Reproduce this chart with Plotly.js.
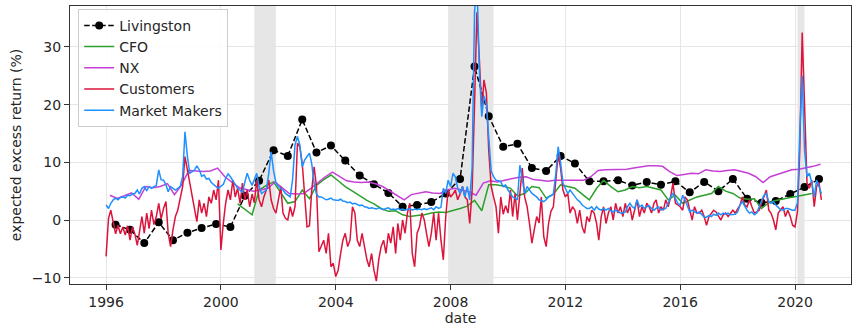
<!DOCTYPE html>
<html>
<head>
<meta charset="utf-8">
<script src="https://cdn.plot.ly/plotly-3.0.1.min.js"></script>
<style>
  html, body { margin: 0; padding: 0; background: #ffffff; }
  #chart { width: 852px; height: 327px; }
</style>
</head>
<body>
<div id="chart"></div>
<script>
// ---------------- DATA ----------------
// Livingston survey, semi-annual (May / Nov), 1996 - 2020
const livingston = [
  -0.8, -1.7, -4.0, -0.4, -3.5, -2.2, -1.4, -0.7, -1.2, 4.2,
   6.8, 12.1, 11.1, 17.4, 11.7, 12.9, 10.3, 7.7, 6.2, 4.7,
   2.3, 2.6, 3.1, 4.6, 7.1, 26.6, 18.0, 12.7, 13.2, 9.0,
   8.5, 11.1, 9.8, 6.7, 6.7, 6.9, 6.0, 6.6, 6.1, 6.7,
   4.8, 6.6, 5.0, 7.1, 3.7, 3.0, 3.3, 4.5, 5.7, 7.1
];
// CFO survey, quarterly from Aug 2000 to Aug 2020
const cfo = [
  2.8, 1.9,
  0.9, 5.2, 6.0, 6.6,
  4.8, 2.9, 3.2, 5.2,
  3.7, 6.0, 7.0, 7.8,
  6.8, 5.8, 5.0, 4.2,
  3.4, 2.8, 2.0, 1.5,
  1.6, 0.9, 0.6, 0.8,
  0.9, 1.2, 1.4, 1.3,
  1.6, 2.0, 2.4, 3.4,
  1.6, 6.1, 6.1, 5.9,
  5.5, 4.2, 4.6, 5.8,
  5.6, 3.8, 4.5, 6.1,
  5.8, 5.5, 4.5, 3.5,
  5.5, 6.9, 5.8, 4.9,
  5.2, 5.8, 5.6, 5.8,
  5.5, 5.2, 3.5, 4.3,
  2.9, 3.5, 4.0, 4.3,
  4.6, 5.8, 5.0, 4.6,
  3.8, 3.6, 3.7, 2.0,
  3.0, 3.4, 3.7, 3.9,
  4.1, 4.3, 4.6
];
// NX, quarterly (Feb / May / Aug / Nov), 1996 - 2020
const nx = [
  4.3, 3.75, 4.2, 4.7,   3.6, 5.8, 5.6, 5.8,   6.3, 4.4, 6.1, 8.6,   8.5, 8.4, 8.5, 9.0,
  7.5, 6.6, 5.6, 5.3,    5.0, 5.2, 5.5, 6.6,   5.6, 4.6, 4.5, 4.6,   5.5, 6.5, 7.5, 8.3,
  7.5, 6.8, 6.6, 6.5,    6.6, 6.3, 5.8, 5.0,   4.2, 3.5, 4.4, 4.7,   4.9, 4.7, 4.6, 5.2,
  5.5, 5.2, 4.9, 4.3,    6.4, 6.8, 6.6, 6.9,   7.2, 7.4, 7.5, 7.0,   6.9, 6.7, 6.9, 6.9,
  6.8, 6.9, 6.9, 7.5,    8.6, 8.7, 8.7, 8.7,   8.8, 9.0, 9.2, 9.4,   9.4, 9.3, 8.4, 7.7,
  7.9, 8.1, 8.0, 8.7,    8.5, 8.4, 8.6, 8.7,   8.4, 8.1, 7.5, 6.5,   7.5, 7.9, 8.2, 8.7,
  8.8, 9.0, 9.3, 9.65
];
// Customers, monthly Jan 1996 - Dec 2020
const customers = [].concat(
  [-6.3, 0.3, 1.7, -0.5, -2.4, -0.9, -2.4, -1.2, -2.6, -1.0, -3.5, -1.2],
  [-2.4, -4.4, -1.7, 0.6, -2.3, 1.2, -1.5, 1.7, -0.8, 0.6, 2.9, 0.2],
  [2.0, 3.2, -2.3, -4.6, -1.7, 0.6, 1.7, 3.5, 5.8, 11.0, 8.7, 5.8],
  [4.0, 1.2, -0.3, 3.5, 1.2, 2.9, 0.6, 4.0, 2.9, 5.2, 3.5, 6.9],
  [-5.2, -0.5, 2.9, 5.2, 3.5, 6.9, 4.0, 5.5, 2.9, 6.4, 3.5, 5.2],
  [2.3, 4.5, 3.0, 6.9, 3.5, 2.3, 4.0, 5.2, 6.9, 3.5, 2.0, 1.2],
  [3.5, 5.8, 1.2, 0.3, 0.0, 2.3, 0.6, 2.3, 13.3, 12.7, 9.8, 3.5],
  [-1.2, -1.0, 5.0, 9.2, 5.8, -5.5, -4.6, -3.5, -5.8, -2.3, -8.1, -7.5],
  [-9.8, -8.7, -6.0, -3.5, -2.3, -4.6, -3.5, 2.3, 1.2, -3.5, -4.6, -2.3],
  [-4.6, -6.9, -8.1, -5.8, -8.7, -10.6, -6.9, -4.6, -3.5, -5.8, -2.3, -4.0],
  [-1.2, -5.8, -0.6, -3.5, 0.0, -2.3, 1.2, 2.9, -5.8, -8.1, -2.3, -1.2],
  [1.2, 0.0, -2.3, -4.6, -2.3, 1.2, -3.5, 1.2, -3.5, -6.9, 0.6, 5.2],
  [4.0, 4.5, 5.2, 3.5, 4.5, 5.8, 4.0, 3.5, -0.6, 5.0, 20.0, 36.0],
  [28.0, 19.0, 24.3, 22.0, 12.0, 5.8, 4.0, 2.3, -2.3, 4.0, 1.0, 2.5],
  [1.2, 5.2, 0.6, 4.6, 0.0, 4.0, 9.0, 4.0, 2.3, -0.6, -4.0, -1.7],
  [0.6, -0.5, 4.0, -2.9, -4.6, -0.6, 1.5, 2.3, 6.9, 11.3, 9.0, 5.2],
  [4.0, 4.6, 1.2, 2.3, 1.7, -0.6, 1.7, -1.2, -2.3, 0.6, -0.3, 1.7],
  [1.2, -0.6, -3.5, 0.6, 2.3, -0.6, 1.2, 2.3, 0.0, 2.9, 1.2, 2.3],
  [0.6, 2.9, 1.2, 2.3, 0.0, 1.7, 3.5, 0.6, 2.3, 1.2, 2.9, 2.3],
  [1.2, 2.9, 3.5, 1.2, 2.3, 1.7, 3.5, 2.3, 4.0, 6.4, 2.9, 2.6],
  [2.3, 1.7, 4.0, 3.5, 2.0, 0.0, 2.3, 1.2, 1.2, 1.7, 0.6, -0.9],
  [0.6, 1.2, 1.7, 1.4, 0.6, 0.0, 0.9, 1.2, 0.6, 1.2, 1.7, 1.2],
  [2.0, 2.6, 4.0, 2.6, 2.3, 3.5, 2.3, 1.2, 1.4, 1.7, 2.9, 4.0],
  [5.2, 1.7, 1.2, 0.0, -1.7, 1.2, 1.7, 2.3, 0.6, 1.7, 0.6, -0.9],
  [-1.2, 1.5, 12.0, 32.5, 20.0, 6.4, 5.5, 6.9, 2.3, 5.8, 6.5, 3.5]
);
// Market Makers, monthly Jan 1996 - Dec 2020
const marketMakers = [].concat(
  [2.6, 2.0, 2.9, 3.5, 3.8, 3.5, 3.9, 4.0, 3.8, 4.3, 4.2, 4.5],
  [4.6, 5.2, 4.5, 5.5, 5.8, 5.1, 5.8, 5.5, 5.8, 6.0, 8.7, 7.0],
  [6.9, 6.1, 4.9, 5.8, 5.5, 5.2, 5.5, 5.8, 7.5, 15.3, 11.0, 8.1],
  [8.4, 8.7, 9.4, 8.7, 7.6, 7.8, 7.1, 7.2, 6.5, 6.1, 5.8, 5.5],
  [5.8, 6.2, 7.2, 8.0, 7.5, 6.9, 6.1, 5.5, 5.2, 4.7, 6.6, 8.1],
  [6.9, 6.0, 7.0, 8.1, 5.8, 4.6, 4.9, 5.2, 8.1, 11.8, 8.5, 6.5],
  [5.8, 5.5, 5.2, 4.6, 4.3, 4.0, 7.0, 13.0, 14.5, 13.0, 9.2, 10.4],
  [11.0, 11.6, 9.8, 6.4, 4.5, 4.0, 4.0, 3.8, 3.5, 3.6, 3.8, 3.5],
  [3.5, 3.4, 3.6, 3.3, 3.2, 3.0, 3.1, 2.8, 2.9, 2.7, 2.5, 2.6],
  [2.3, 2.2, 2.0, 2.1, 2.0, 1.9, 2.1, 2.0, 1.8, 2.0, 2.1, 1.8],
  [1.9, 1.8, 2.0, 1.8, 1.9, 1.7, 1.8, 2.0, 1.7, 1.9, 1.8, 1.9],
  [1.8, 2.0, 1.8, 1.9, 2.1, 1.8, 2.3, 2.0, 2.2, 5.5, 4.6, 6.9],
  [5.8, 8.1, 7.5, 5.5, 4.6, 5.8, 4.0, 5.8, 3.5, 9.0, 36.0, 42.0],
  [26.0, 17.9, 21.5, 20.0, 14.0, 8.5, 7.5, 6.9, 6.8, 6.6, 5.8, 6.1],
  [5.2, 4.6, 4.0, 3.8, 3.5, 9.5, 7.0, 4.6, 5.8, 5.2, 4.6, 4.3],
  [4.0, 3.5, 3.3, 3.2, 3.5, 4.0, 4.2, 4.5, 8.0, 12.7, 10.0, 6.4],
  [5.5, 4.6, 5.2, 4.6, 4.0, 3.5, 3.2, 2.6, 2.3, 2.0, 2.0, 2.3],
  [1.7, 2.3, 1.9, 1.7, 2.0, 1.7, 2.0, 1.6, 1.4, 1.7, 1.5, 1.2],
  [1.2, 1.4, 2.3, 2.9, 2.3, 2.0, 3.5, 2.3, 2.6, 2.0, 2.3, 2.5],
  [2.0, 1.7, 2.0, 2.3, 1.7, 1.8, 2.0, 2.9, 4.0, 4.6, 3.8, 2.9],
  [2.6, 4.3, 3.5, 2.3, 1.4, 1.7, 1.4, 1.2, 1.4, 0.9, 0.5, 0.5],
  [0.8, 0.6, 1.0, 0.8, 1.2, 0.9, 1.2, 1.0, 1.2, 0.9, 0.9, 1.0],
  [1.4, 2.6, 3.2, 2.3, 1.7, 1.2, 1.4, 0.9, 1.2, 2.3, 3.2, 4.3],
  [4.6, 3.2, 2.9, 3.2, 2.6, 2.2, 1.8, 1.7, 2.0, 2.0, 1.8, 1.7],
  [1.7, 3.0, 15.0, 25.0, 12.0, 7.5, 8.1, 6.5, 4.0, 6.9, 5.8, 4.6]
);
// NBER recessions
const recessions = [
  ['2001-03-01', '2001-11-30'],
  ['2007-12-01', '2009-06-30'],
  ['2020-02-01', '2020-04-30']
];
const seriesNames = ['Livingston', 'CFO', 'NX', 'Customers', 'Market Makers'];

// ---------------- helpers ----------------
function pad(n) { return (n < 10 ? '0' : '') + n; }
function dateSeries(startYear, startMonth, day, stepMonths, n) {
  const out = [];
  for (let i = 0; i < n; i++) {
    const mIdx = (startMonth - 1) + i * stepMonths;
    const y = startYear + Math.floor(mIdx / 12);
    const m = (mIdx % 12) + 1;
    out.push(y + '-' + pad(m) + '-' + pad(day));
  }
  return out;
}

const FONT = 'DejaVu Sans, Liberation Sans, sans-serif';
const TXT = '#262626';

const traces = [
  {
    name: seriesNames[0], type: 'scatter', mode: 'lines+markers',
    x: dateSeries(1996, 5, 1, 6, livingston.length), y: livingston,
    line: { color: '#000000', width: 1.5, dash: '5.5px,2.5px' },
    marker: { color: '#000000', size: 8 }
  },
  {
    name: seriesNames[1], type: 'scatter', mode: 'lines',
    x: dateSeries(2000, 8, 1, 3, cfo.length), y: cfo,
    line: { color: '#2ca02c', width: 1.5 }
  },
  {
    name: seriesNames[2], type: 'scatter', mode: 'lines',
    x: dateSeries(1996, 2, 20, 3, nx.length), y: nx,
    line: { color: '#c63fd6', width: 1.5 }
  },
  {
    name: seriesNames[3], type: 'scatter', mode: 'lines',
    x: dateSeries(1996, 1, 1, 1, customers.length), y: customers,
    line: { color: '#dc143c', width: 1.5 }
  },
  {
    name: seriesNames[4], type: 'scatter', mode: 'lines',
    x: dateSeries(1996, 1, 1, 1, marketMakers.length), y: marketMakers,
    line: { color: '#1e90ff', width: 1.5 }
  }
];

const shapes = recessions.map(r => ({
  type: 'rect', xref: 'x', yref: 'paper', x0: r[0], x1: r[1], y0: 0, y1: 1,
  fillcolor: 'rgba(128,128,128,0.2)', line: { width: 0 }, layer: 'below'
}));

const layout = {
  width: 852, height: 327,
  margin: { l: 70, r: 1, t: 6, b: 43, pad: 0 },
  paper_bgcolor: '#ffffff', plot_bgcolor: '#ffffff',
  font: { family: FONT, size: 14, color: TXT },
  showlegend: true,
  legend: {
    x: 0.0105, y: 0.99, xanchor: 'left', yanchor: 'top',
    bgcolor: 'rgba(255,255,255,0.85)', bordercolor: '#cccccc', borderwidth: 1,
    font: { family: FONT, size: 14, color: TXT },
    tracegroupgap: 0, itemwidth: 30
  },
  xaxis: {
    type: 'date',
    range: ['1994-09-29', '2021-12-13'],
    tick0: '1996-01-01', dtick: 'M48', tickformat: '%Y',
    showgrid: true, gridcolor: '#e6e6e6', gridwidth: 1,
    ticks: 'outside', ticklen: 5, tickcolor: '#333333', tickwidth: 1,
    showline: true, linecolor: '#333333', linewidth: 1, mirror: true,
    zeroline: false,
    tickfont: { family: FONT, size: 14, color: TXT },
    title: { text: 'date', font: { family: FONT, size: 14, color: TXT }, standoff: 4 },
    automargin: false
  },
  yaxis: {
    range: [-11.09, 37.09],
    tick0: 0, dtick: 10,
    showgrid: true, gridcolor: '#e6e6e6', gridwidth: 1,
    ticks: 'outside', ticklen: 5, tickcolor: '#333333', tickwidth: 1,
    showline: true, linecolor: '#333333', linewidth: 1, mirror: true,
    zeroline: false,
    tickfont: { family: FONT, size: 14, color: TXT },
    title: { text: 'expected excess return (%)', font: { family: FONT, size: 14, color: TXT }, standoff: 6 },
    automargin: false
  },
  shapes: shapes
};

Plotly.newPlot('chart', traces, layout, { displayModeBar: false, staticPlot: true });
</script>
</body>
</html>
